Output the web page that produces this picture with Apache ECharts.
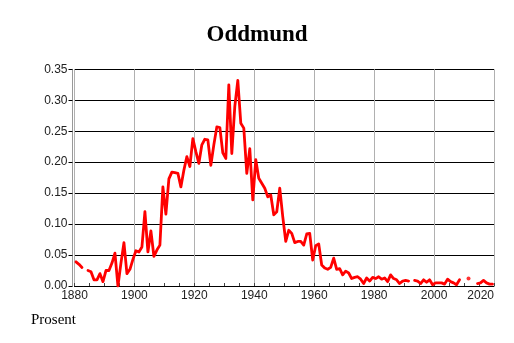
<!DOCTYPE html>
<html>
<head>
<meta charset="utf-8">
<script src="https://cdn.jsdelivr.net/npm/echarts@6/dist/echarts.min.js"></script>
<style>html,body{margin:0;padding:0;background:#fff}#c{width:514px;height:343px}</style>
</head>
<body>
<div id="c"></div>
<script>
const titleText = 'Oddmund';
const unitText = 'Prosent';
const years = [];
for (let y = 1880; y <= 2019; y++) years.push(y);
const values = [
  0.039, 0.035, 0.030, null, 0.025, 0.023, 0.010, 0.010, 0.020, 0.007,
  0.025, 0.025, 0.037, 0.053, 0.000, 0.037, 0.070, 0.020, 0.027, 0.043,
  0.057, 0.055, 0.063, 0.120, 0.055, 0.089, 0.048, 0.058, 0.066, 0.160,
  0.116, 0.173, 0.184, 0.183, 0.182, 0.160, 0.187, 0.209, 0.193, 0.238,
  0.217, 0.198, 0.228, 0.237, 0.236, 0.195, 0.228, 0.257, 0.256, 0.215,
  0.206, 0.325, 0.214, 0.290, 0.332, 0.263, 0.255, 0.182, 0.222, 0.139,
  0.204, 0.174, 0.166, 0.158, 0.144, 0.147, 0.115, 0.120, 0.158, 0.112,
  0.072, 0.090, 0.085, 0.070, 0.072, 0.072, 0.066, 0.084, 0.085, 0.042,
  0.065, 0.068, 0.034, 0.029, 0.027, 0.030, 0.045, 0.027, 0.028, 0.018,
  0.024, 0.021, 0.012, 0.014, 0.015, 0.011, 0.004, 0.013, 0.008, 0.014,
  0.012, 0.015, 0.011, 0.013, 0.007, 0.018, 0.012, 0.010, 0.004, 0.008,
  0.009, 0.008, null, 0.009, 0.008, 0.004, 0.010, 0.006, 0.010, 0.002,
  0.005, 0.005, 0.005, 0.003, 0.011, 0.007, 0.005, 0.002, 0.010, null,
  null, 0.012, null, null, 0.004, 0.005, 0.009, 0.005, 0.003, 0.003
];
const xTicks = [1880, 1900, 1920, 1940, 1960, 1980, 2000, 2020];
const yTicks = [0, 0.05, 0.10, 0.15, 0.20, 0.25, 0.30, 0.35];

const lineData = years.map((y, i) => [y, values[i]]);
const isolated = years.map((y, i) => [y, values[i]]).filter((p, i) =>
  p[1] !== null && (i === 0 || values[i - 1] === null) && (i === values.length - 1 || values[i + 1] === null));

const chart = echarts.init(document.getElementById('c'));
chart.setOption({
  animation: false,
  backgroundColor: '#fff',
  title: [
    { text: titleText, left: 'center', top: 19,
      textStyle: { fontFamily: 'Liberation Serif', fontWeight: 'bold', fontSize: 23, color: '#000' } },
    { text: unitText, left: 26, top: 308,
      textStyle: { fontFamily: 'Liberation Serif', fontWeight: 'normal', fontSize: 15, color: '#000' } }
  ],
  grid: { left: 74.5, right: 20, top: 69.3, bottom: 57, containLabel: false },
  xAxis: [
    { type: 'value', min: xTicks[0], max: xTicks[xTicks.length - 1], interval: 20,
      axisLine: { show: true, onZero: false, lineStyle: { color: '#000', width: 1 } },
      axisTick: { show: true, inside: true, length: 3, lineStyle: { color: '#444' } },
      minorTick: { show: true, splitNumber: 4, length: 3, lineStyle: { color: '#444' } },
      axisLabel: { margin: 4, fontFamily: 'Liberation Sans', fontSize: 12, color: '#222',
        alignMaxLabel: 'right', formatter: v => String(v) },
      splitLine: { show: true, lineStyle: { color: '#b0b0b0', width: 1 } } },
    { type: 'value', min: xTicks[0] - 0.5, max: xTicks[xTicks.length - 1] - 0.5, show: false }
  ],
  yAxis: {
    type: 'value', min: yTicks[0], max: yTicks[yTicks.length - 1], interval: 0.05, offset: 2,
    axisLine: { show: true, lineStyle: { color: '#999', width: 1 } },
    axisTick: { show: true, length: 4, lineStyle: { color: '#000' } },
    axisLabel: { margin: 5, fontFamily: 'Liberation Sans', fontSize: 12, color: '#222',
      formatter: v => v.toFixed(2) },
    splitLine: { show: true, lineStyle: { color: '#000', width: 1 } }
  },
  series: [
    { type: 'line', xAxisIndex: 1, data: lineData, showSymbol: false, connectNulls: false,
      lineStyle: { color: '#ff0000', width: 2.8, join: 'round', cap: 'round' } },
    { type: 'scatter', xAxisIndex: 1, data: isolated, symbolSize: 4,
      itemStyle: { color: '#ff0000' } }
  ]
});
</script>
</body>
</html>
